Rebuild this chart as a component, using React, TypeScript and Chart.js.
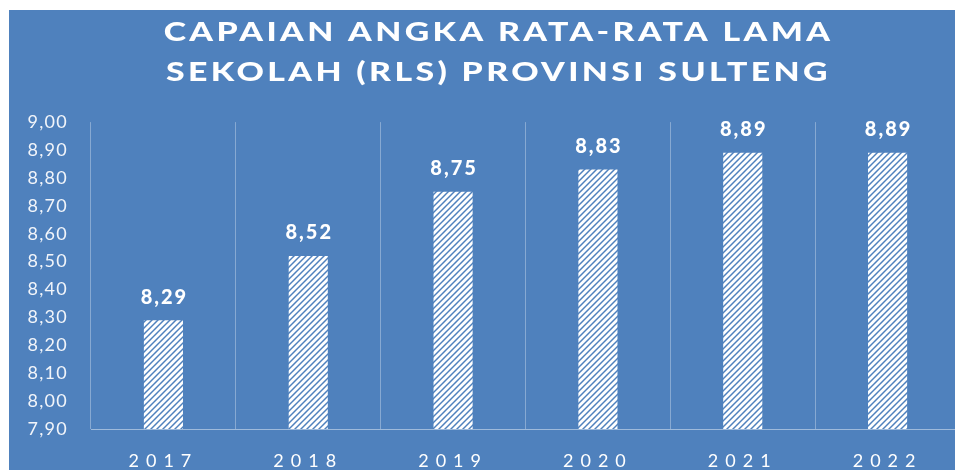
import React, { useEffect, useRef } from 'react';
import { Chart, registerables } from 'chart.js';

Chart.register(...registerables);

const years = ['2017', '2018', '2019', '2020', '2021', '2022'];
const rlsValues = [8.29, 8.52, 8.75, 8.83, 8.89, 8.89];
const yTickValues = [7.9, 8.0, 8.1, 8.2, 8.3, 8.4, 8.5, 8.6, 8.7, 8.8, 8.9, 9.0];
const titleLines = ['CAPAIAN ANGKA RATA-RATA LAMA', 'SEKOLAH (RLS) PROVINSI SULTENG'];

const BG = '#4F81BD';
const GRID = 'rgba(255,255,255,0.32)';
const FONT = 'Lato, "Open Sans", sans-serif';

const fmt = (v: number) => v.toFixed(2).replace('.', ',');

function makeHatch(): CanvasPattern | string {
  const size = 6;
  const c = document.createElement('canvas');
  c.width = size;
  c.height = size;
  const g = c.getContext('2d');
  if (!g) return '#ffffff';
  g.strokeStyle = '#ffffff';
  g.lineWidth = 2.8;
  g.lineCap = 'square';
  g.beginPath();
  g.moveTo(-1, size + 1);
  g.lineTo(size + 1, -1);
  g.moveTo(-1, 1);
  g.lineTo(1, -1);
  g.moveTo(size - 1, size + 1);
  g.lineTo(size + 1, size - 1);
  g.stroke();
  const p = g.createPattern(c, 'repeat');
  return p || '#ffffff';
}

const spacingPlugin = {
  id: 'spacingPlugin',
  beforeDraw(chart: any) {
    const ctx = chart.ctx;
    const wrap = (obj: any, key: string, fn: (orig: (...a: any[]) => void, args: any[]) => void) => {
      if (!obj || obj['__wrapped_' + key]) return;
      const orig = obj[key].bind(obj);
      obj[key] = (...args: any[]) => fn(orig, args);
      obj['__wrapped_' + key] = true;
    };
    wrap(chart.titleBlock, 'draw', (orig, args) => {
      const tb = chart.titleBlock;
      const cx = (tb.left + tb.right) / 2;
      ctx.save();
      ctx.translate(cx + 14, 0);
      ctx.scale(1.3, 1);
      ctx.translate(-cx, 0);
      ctx.letterSpacing = '2.6px';
      orig(...args);
      ctx.restore();
    });
    wrap(chart.scales.x, 'drawLabels', (orig, args) => {
      ctx.save();
      ctx.letterSpacing = '7px';
      orig(...args);
      ctx.restore();
    });
    wrap(chart.scales.y, 'drawLabels', (orig, args) => {
      ctx.save();
      ctx.letterSpacing = '1.3px';
      orig(...args);
      ctx.restore();
    });
  },
  afterDatasetsDraw(chart: any) {
    const ctx = chart.ctx;
    const meta = chart.getDatasetMeta(0);
    ctx.save();
    ctx.font = `900 20px ${FONT}`;
    ctx.fillStyle = '#ffffff';
    ctx.textAlign = 'center';
    ctx.textBaseline = 'middle';
    ctx.letterSpacing = '2px';
    meta.data.forEach((bar: any, i: number) => {
      ctx.fillText(fmt(rlsValues[i]), bar.x + 1, bar.y - 23);
    });
    ctx.restore();
  },
};

export default function App() {
  const ref = useRef<HTMLCanvasElement | null>(null);

  useEffect(() => {
    if (!ref.current) return;
    const chart = new Chart(ref.current, {
      type: 'bar',
      data: {
        labels: years,
        datasets: [
          {
            label: 'RLS',
            data: rlsValues,
            backgroundColor: makeHatch() as any,
            borderWidth: 0,
            barPercentage: 0.27,
            categoryPercentage: 1,
          },
        ],
      },
      options: {
        responsive: false,
        animation: false,
        layout: { padding: { left: 0, right: 49, top: 0, bottom: 0 } },
        plugins: {
          legend: { display: false },
          tooltip: { enabled: false },
          title: {
            display: true,
            text: titleLines,
            color: '#ffffff',
            font: { family: FONT, size: 26, weight: 900, lineHeight: 1.56 },
            padding: { top: 2, bottom: 29 },
          },
        },
        scales: {
          x: {
            offset: true,
            grid: { display: true, offset: true, color: GRID, drawTicks: false, lineWidth: 1 },
            border: { display: true, color: 'rgba(255,255,255,0.45)' },
            ticks: {
              color: '#ffffff',
              font: { family: FONT, size: 18 },
              padding: 21,
              maxRotation: 0,
            },
            afterFit: (scale: any) => {
              scale.height = 41;
            },
          },
          y: {
            min: 7.9,
            max: 9.0,
            grid: { display: false, drawTicks: false },
            border: { display: false },
            ticks: {
              color: '#F2F5FA',
              font: { family: FONT, size: 18 },
              padding: 23,
              callback: (v: any) => fmt(Number(v)),
            },
            afterBuildTicks: (scale: any) => {
              scale.ticks = yTickValues.map((v) => ({ value: v }));
            },
            afterFit: (scale: any) => {
              scale.width = 82;
            },
          },
        },
      },
      plugins: [spacingPlugin],
    });
    return () => chart.destroy();
  }, []);

  return (
    <div
      style={{
        position: 'fixed',
        left: 0,
        top: 0,
        width: 955,
        height: 470,
        overflow: 'hidden',
        background: '#ffffff',
      }}
    >
      <div
        style={{
          position: 'absolute',
          left: 9,
          top: 10,
          width: 1000,
          height: 460,
          background: BG,
        }}
      >
        <canvas ref={ref} width={1000} height={460} style={{ display: 'block' }} />
      </div>
    </div>
  );
}
